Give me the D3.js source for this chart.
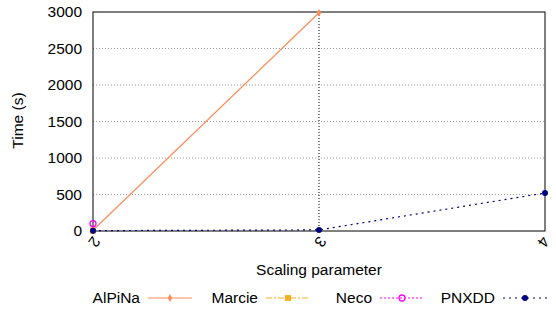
<!DOCTYPE html>
<html>
<head>
<meta charset="utf-8">
<script src="https://cdn.jsdelivr.net/npm/d3@7"></script>
<style>
  body { margin: 0; background: #fff; }
  text { font-family: "Liberation Sans", Arial, sans-serif; }
</style>
</head>
<body>
<div id="chart"></div>
<script>
// data
var scaling = [2, 3, 4];
var yTicks = [0, 500, 1000, 1500, 2000, 2500, 3000];
var alpina = [[2, 10], [3, 2990]];
var marcie = [[2, 5]];
var neco = [[2, 100]];
var pnxdd = [[2, 5], [3, 15], [4, 520]];

var series = [
  { name: "AlPiNa", values: alpina, color: "#ff8c5a", dash: null, marker: "diamond" },
  { name: "Marcie", values: marcie, color: "#f5b022", dash: "6,2,2,2", marker: "square" },
  { name: "Neco", values: neco, color: "#ff00ff", dash: "2,2", marker: "circle" },
  { name: "PNXDD", values: pnxdd, color: "#000080", dash: "2,4", marker: "dot" }
];

var fontSize = "15.5px";

var margin = { top: 12, right: 11, bottom: 80, left: 93 },
  width = 556 - margin.left - margin.right,
  height = 311 - margin.top - margin.bottom;

var svg = d3
  .select("#chart")
  .append("svg")
  .attr("width", 556)
  .attr("height", 311)
  .append("g")
  .attr("transform", "translate(" + margin.left + "," + margin.top + ")");

var x = d3.scaleLinear().domain([2, 4]).range([0, width]);
var y = d3.scaleLinear().domain([0, 3000]).range([height, 0]);

// grid
svg.append("g")
  .selectAll("line")
  .data(yTicks.slice(1, -1))
  .enter()
  .append("line")
  .attr("x1", 0).attr("x2", width)
  .attr("y1", function (d) { return y(d); })
  .attr("y2", function (d) { return y(d); })
  .style("stroke", "#999")
  .style("stroke-dasharray", "1,2");

svg.append("g")
  .selectAll("line")
  .data(scaling.slice(1, -1))
  .enter()
  .append("line")
  .attr("x1", function (d) { return x(d); })
  .attr("x2", function (d) { return x(d); })
  .attr("y1", 0).attr("y2", height)
  .style("stroke", "#000")
  .style("stroke-dasharray", "1,2");

// axes
var yAxis = svg.append("g")
  .call(d3.axisLeft(y).tickValues(yTicks).tickFormat(d3.format("d")).tickSize(0).tickPadding(11));
yAxis.select(".domain").remove();
yAxis.selectAll("text").style("font-size", fontSize).style("fill", "#000");

var xAxis = svg.append("g")
  .attr("transform", "translate(0," + height + ")")
  .call(d3.axisBottom(x).tickValues(scaling).tickFormat(d3.format("d")).tickSize(0));
xAxis.select(".domain").remove();
xAxis.selectAll("text")
  .style("font-size", fontSize)
  .style("fill", "#000")
  .attr("y", 0)
  .attr("dy", "0.35em")
  .attr("text-anchor", "middle")
  .attr("transform", function (d, i) {
    var dx = i === scaling.length - 1 ? -2 : 1;
    return "translate(" + dx + ",11) rotate(125)";
  });

svg.append("rect")
  .attr("width", width)
  .attr("height", height)
  .style("fill", "none")
  .style("stroke", "#000")
  .style("stroke-width", 1);

// lines
var line = d3.line()
  .x(function (d) { return x(d[0]); })
  .y(function (d) { return y(d[1]); });

function drawMarker(g, type, color, cx, cy) {
  if (type === "diamond") {
    g.append("path")
      .attr("d", d3.symbol().type(d3.symbolDiamond).size(18)())
      .attr("transform", "translate(" + cx + "," + cy + ")")
      .style("fill", color);
  } else if (type === "square") {
    g.append("rect")
      .attr("x", cx - 3).attr("y", cy - 3)
      .attr("width", 6).attr("height", 6)
      .style("fill", color);
  } else if (type === "circle") {
    g.append("circle")
      .attr("cx", cx).attr("cy", cy).attr("r", 3)
      .style("fill", "none")
      .style("stroke", color)
      .style("stroke-width", 1.3);
  } else {
    g.append("circle")
      .attr("cx", cx).attr("cy", cy).attr("r", 3)
      .style("fill", color);
  }
}

series.forEach(function (s) {
  var g = svg.append("g");
  g.append("path")
    .datum(s.values)
    .attr("d", line)
    .style("fill", "none")
    .style("stroke", s.color)
    .style("stroke-width", 1.2)
    .style("stroke-dasharray", s.dash);
  s.values.forEach(function (d) {
    drawMarker(g, s.marker, s.color, x(d[0]), y(d[1]));
  });
});

// axis titles
svg.append("text")
  .attr("x", width / 2)
  .attr("y", height + 44)
  .attr("text-anchor", "middle")
  .style("font-size", fontSize)
  .text("Scaling parameter");

svg.append("text")
  .attr("transform", "translate(-70," + (height / 2 - 1) + ") rotate(-90)")
  .attr("text-anchor", "middle")
  .style("font-size", fontSize)
  .text("Time (s)");

// legend
var legendX = [148, 266, 380, 503];
var legend = d3.select("svg").append("g").attr("transform", "translate(0,298)");
series.forEach(function (s, i) {
  var lx = legendX[i];
  legend.append("text")
    .attr("x", lx - 8)
    .attr("y", 5)
    .attr("text-anchor", "end")
    .style("font-size", fontSize)
    .text(s.name);
  legend.append("line")
    .attr("x1", lx).attr("x2", lx + 44)
    .attr("y1", 0).attr("y2", 0)
    .style("stroke", s.color)
    .style("stroke-width", 1.2)
    .style("stroke-dasharray", s.dash);
  drawMarker(legend, s.marker, s.color, lx + 22, 0);
});
</script>
</body>
</html>
